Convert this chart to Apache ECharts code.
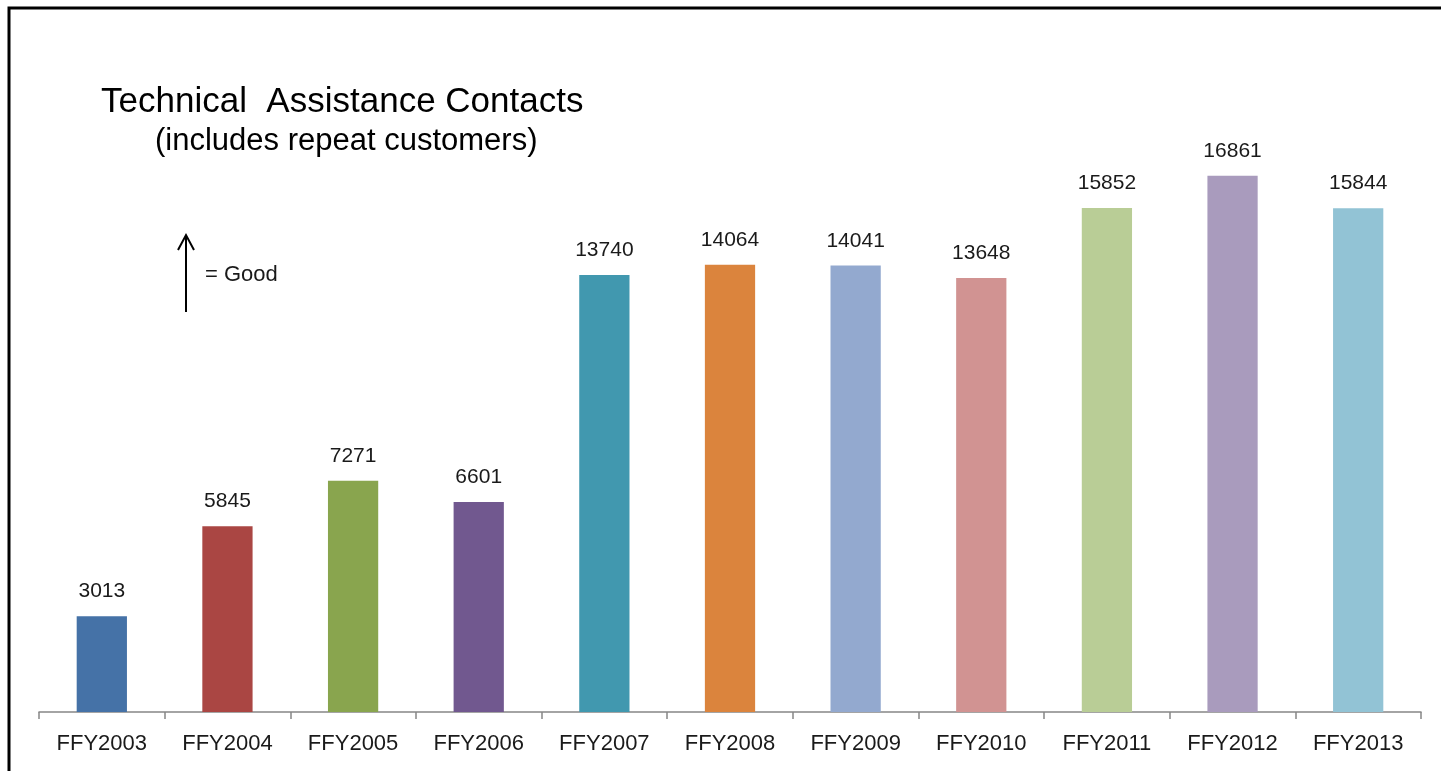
<!DOCTYPE html>
<html>
<head>
<meta charset="utf-8">
<title>Technical Assistance Contacts</title>
<script src="https://cdn.jsdelivr.net/npm/echarts@6/dist/echarts.min.js"></script>
<style>
    html, body { margin: 0; padding: 0; background: #fff; }
    #main { width: 1441px; height: 771px; }
</style>
</head>
<body>
<div id="main"></div>
<script>
const years = ['FFY2003', 'FFY2004', 'FFY2005', 'FFY2006', 'FFY2007', 'FFY2008',
    'FFY2009', 'FFY2010', 'FFY2011', 'FFY2012', 'FFY2013']
const contacts = [3013, 5845, 7271, 6601, 13740, 14064, 14041, 13648, 15852, 16861, 15844]
const barColors = ['#4572A7', '#AA4643', '#89A54E', '#71588F', '#4198AF', '#DB843D',
    '#93A9CF', '#D19392', '#B9CD96', '#A99BBD', '#92C3D5']

const font = '"Liberation Sans", Arial, sans-serif'

let myChart = echarts.init(document.getElementById('main'))

myChart.setOption({
    animation: false,
    title: [
        {
            text: 'Technical  Assistance Contacts',
            left: 96,
            top: 80,
            textStyle: { fontFamily: font, fontSize: 35, fontWeight: 'normal', color: '#000' }
        },
        {
            text: '(includes repeat customers)',
            left: 150,
            top: 121,
            textStyle: { fontFamily: font, fontSize: 31, fontWeight: 'normal', color: '#000' }
        }
    ],
    grid: { left: 39, right: 20, top: 76, bottom: 59, containLabel: false },
    xAxis: {
        type: 'category',
        data: years,
        axisLine: { lineStyle: { color: '#868686', width: 1.5 } },
        axisTick: { show: true, length: 7, lineStyle: { color: '#868686', width: 1.5 } },
        axisLabel: { interval: 0, fontFamily: font, fontSize: 22, color: '#1a1a1a', margin: 21 }
    },
    yAxis: {
        type: 'value',
        min: 0,
        max: 20000,
        show: false,
        splitLine: { show: false }
    },
    series: [{
        type: 'bar',
        barWidth: '40%',
        data: contacts.map(function (v, i) {
            return { value: v, itemStyle: { color: barColors[i] } }
        }),
        label: {
            show: true,
            position: 'top',
            distance: 14,
            fontFamily: font,
            fontSize: 21,
            color: '#1a1a1a'
        }
    }],
    graphic: [
        // frame
        {
            type: 'polyline',
            shape: { points: [[9, 771], [9, 8], [1441, 8]] },
            style: { stroke: '#000', lineWidth: 3, fill: null }
        },
        // arrow = good
        {
            type: 'line',
            shape: { x1: 186, y1: 312, x2: 186, y2: 236 },
            style: { stroke: '#000', lineWidth: 2 }
        },
        {
            type: 'polyline',
            shape: { points: [[178, 250], [186, 235], [194, 250]] },
            style: { stroke: '#000', lineWidth: 2, fill: null }
        },
        {
            type: 'text',
            left: 205,
            top: 264,
            style: { text: '= Good', fontFamily: font, fontSize: 22, fill: '#1a1a1a' }
        }
    ]
})
</script>
</body>
</html>
